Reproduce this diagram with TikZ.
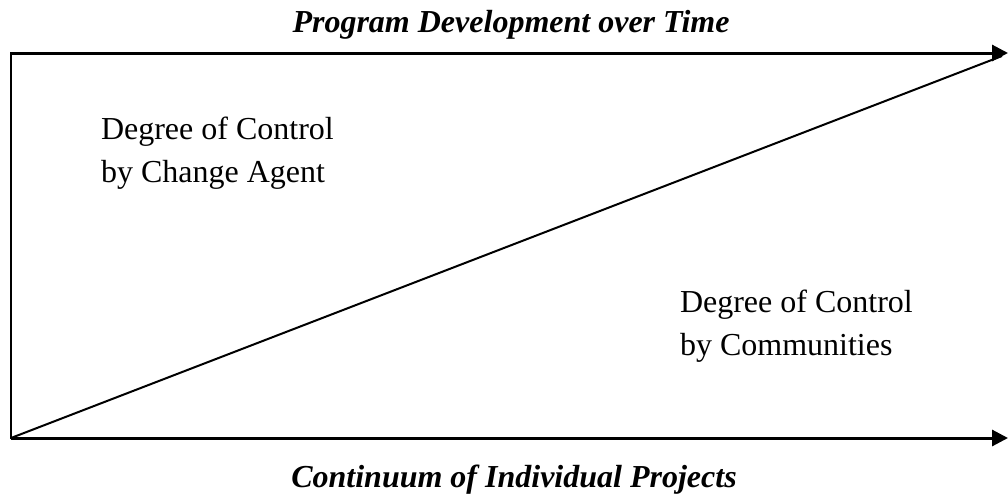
\documentclass[tikz,border=0pt]{standalone}
\usepackage{fontspec}
\setmainfont{Liberation Serif}
\usetikzlibrary{arrows.meta}
\tikzset{every picture/.style={line width=2pt}}
\tikzset{axis/.style={line width=3pt,-{Triangle[length=16pt,width=16pt]}},
  heading/.style={font=\fontsize{32}{40}\selectfont\bfseries\itshape,inner sep=0pt,anchor=base},
  region/.style={font=\fontsize{32}{43}\selectfont,align=left,inner sep=0pt,anchor=base west}}

\begin{document}
\begin{tikzpicture}[x=1pt,y=-1pt]
\useasboundingbox (0,0) rectangle (1008,493);
\coordinate (o) at (11,438);
\coordinate (c) at (11,53);
\coordinate (t) at (1008,53);
\coordinate (b) at (1008,438);
\coordinate (d) at (1002,56);
\node[heading] at (511,32) (time) {Program Development over Time};
\node[heading] at (514,487) (projects) {Continuum of Individual Projects};
% base anchor sits on the last line here
\node[region] at (100,182) (agent) {Degree of Control\\by Change Agent};
\node[region] at (679,355) (comm) {Degree of Control\\by Communities};
\draw[axis] (c) -- (t);
\draw[axis] (o) -- (b);
\draw[line width=2.5pt,line cap=rect] (o) -- (c);
\draw (o) -- (d);
\end{tikzpicture}
\end{document}
